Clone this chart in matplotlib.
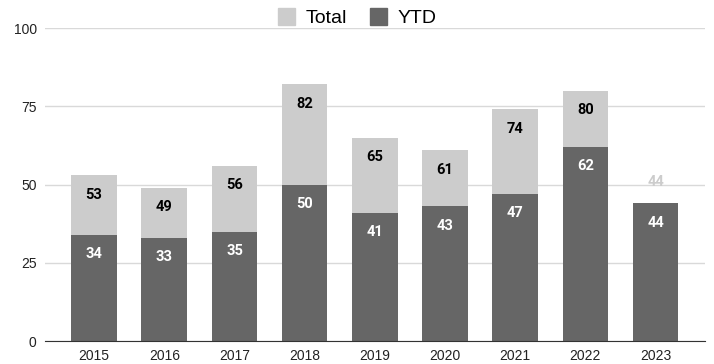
import matplotlib
matplotlib.use("Agg")
import matplotlib.pyplot as plt
from matplotlib.patches import Patch

years = ["2015", "2016", "2017", "2018", "2019", "2020", "2021", "2022", "2023"]
total = [53, 49, 56, 82, 65, 61, 74, 80, 44]
ytd = [34, 33, 35, 50, 41, 43, 47, 62, 44]
yticks = [0, 25, 50, 75, 100]

c_total = "#cccccc"
c_ytd = "#666666"

fig = plt.figure(figsize=(7.14, 3.64), dpi=100)
ax = fig.add_axes([0.063, 0.063, 0.924, 0.86])
x = list(range(len(years)))
w = 0.65
ax.bar(x, total, width=w, color=c_total, zorder=2)
ax.bar(x, ytd, width=w, color=c_ytd, zorder=3)

for i in x:
    if total[i] != ytd[i]:
        ax.annotate(str(total[i]), (i, total[i]), xytext=(0, -14), textcoords="offset points",
                    ha="center", va="center", fontsize=10.5, fontweight="bold", color="black",
                    family="Roboto", zorder=4)
    else:
        ax.annotate(str(total[i]), (i, total[i]), xytext=(0, 15), textcoords="offset points",
                    ha="center", va="center", fontsize=10.5, fontweight="bold", color=c_total,
                    family="Roboto", zorder=4)
    ax.annotate(str(ytd[i]), (i, ytd[i]), xytext=(0, -14), textcoords="offset points",
                ha="center", va="center", fontsize=10.5, fontweight="bold", color="white",
                family="Roboto", zorder=4)

ax.set_ylim(0, 100)
ax.set_xlim(-0.7, len(years) - 0.3)
ax.set_yticks(yticks)
ax.set_xticks(x)
ax.set_xticklabels(years)
ax.grid(axis="y", color="#d9d9d9", linewidth=1, zorder=0)
for s in ["top", "right", "left"]:
    ax.spines[s].set_visible(False)
ax.spines["bottom"].set_color("#333333")
ax.spines["bottom"].set_zorder(5)
ax.tick_params(length=0, labelsize=10, colors="#222222", pad=6)
for lab in ax.get_xticklabels() + ax.get_yticklabels():
    lab.set_family("Liberation Sans")

handles = [Patch(color=c_total, label="Total"), Patch(color=c_ytd, label="YTD")]
fig.legend(handles=handles, loc="upper center", bbox_to_anchor=(0.5, 1.025), ncol=2, frameon=False,
           prop={"family": "Liberation Sans", "size": 14}, handlelength=0.9, handleheight=0.9,
           handletextpad=0.5, columnspacing=1.2)

fig.savefig("out.png", dpi=100)
